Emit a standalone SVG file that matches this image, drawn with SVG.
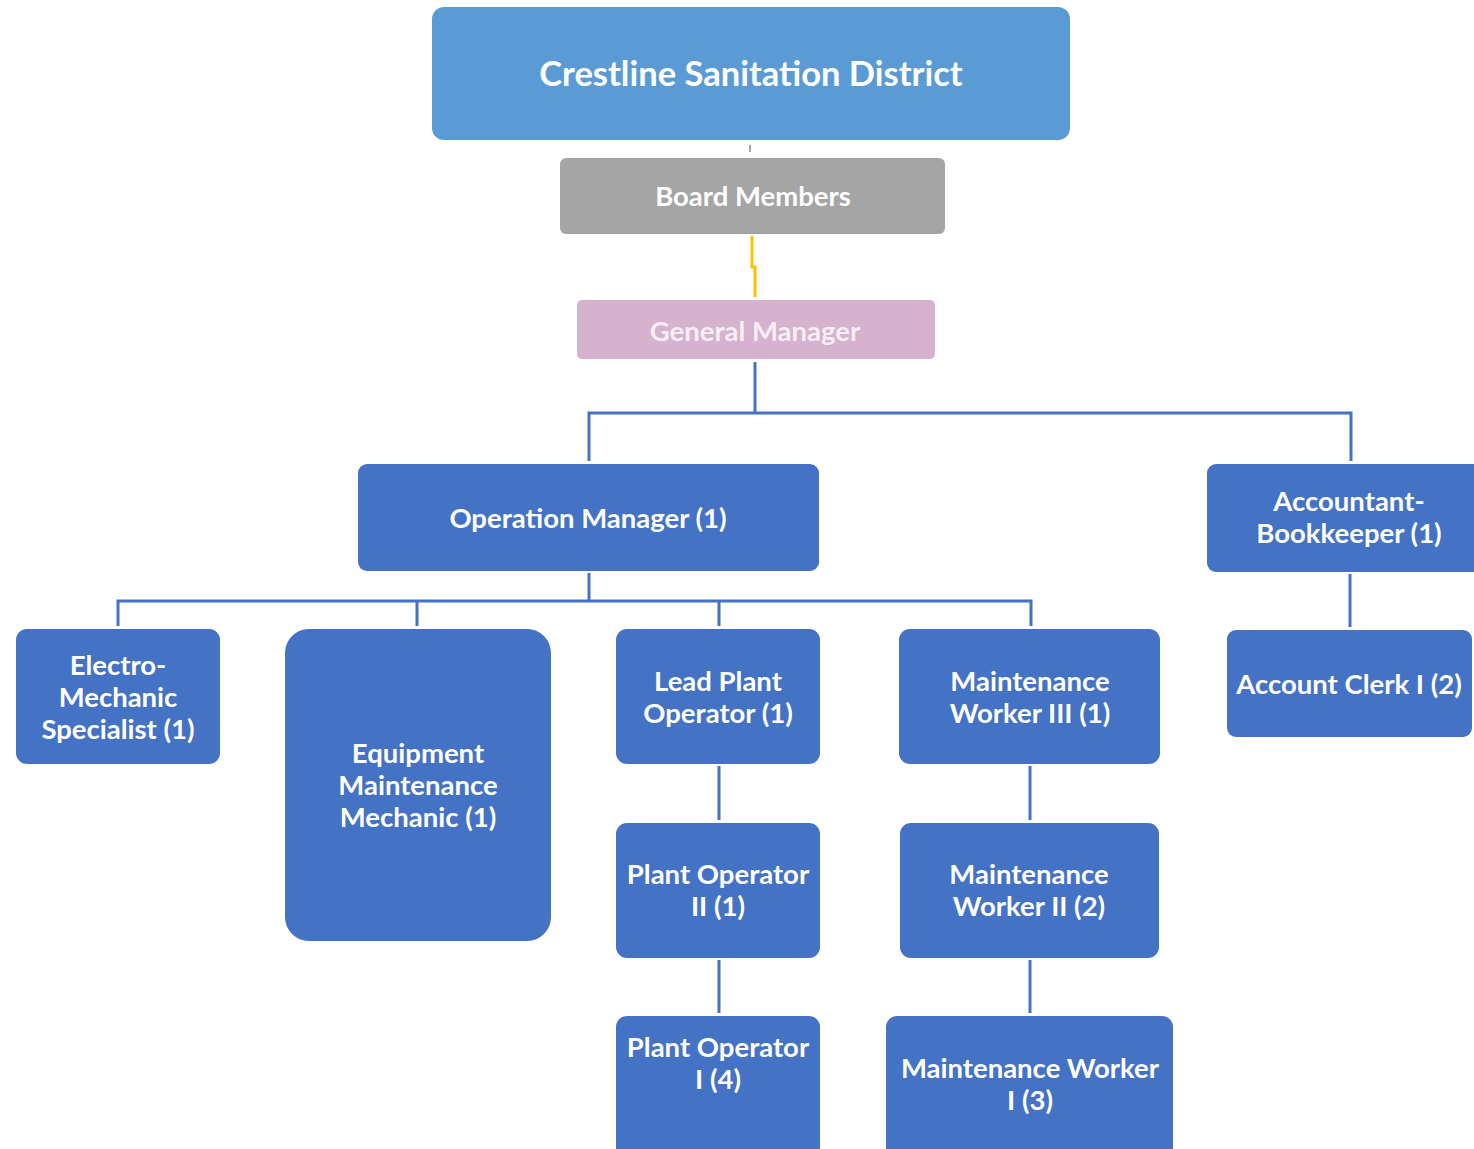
<svg xmlns="http://www.w3.org/2000/svg" width="1474" height="1149" viewBox="0 0 1474 1149">
<style>
  text { font-family: Lato, "Open Sans", "Liberation Sans", sans-serif; font-weight: bold; fill: #ffffff; text-anchor: middle; dominant-baseline: central; }
  .n { fill: #4472C4; }
  .t { font-size: 27.5px; }
  .c { fill: none; stroke: #4472C4; stroke-width: 3; }
</style>
<rect width="1474" height="1149" fill="#ffffff"/>
<g id="connectors">
  <path d="M750 145 V152" stroke="#A5A5A5" stroke-width="2" fill="none"/>
  <path d="M752 236 V267 H755 V297" stroke="#FFC000" stroke-width="3" fill="none"/>
  <path class="c" d="M755 362 V413 M589 461 V413 H1351 V461"/>
  <path class="c" d="M589 573 V601 M118 626 V601 H1031 V626 M417 601 V626 M719 601 V626"/>
  <path class="c" d="M1350 574 V627"/>
  <path class="c" d="M719 766 V820 M719 960 V1013"/>
  <path class="c" d="M1030 766 V820 M1030 960 V1013"/>
</g>
<g id="district">
  <rect x="432" y="7" width="638" height="133" rx="12" fill="#5B9BD5"/>
  <text x="751" y="72" style="font-size:34.5px">Crestline Sanitation District</text>
</g>
<g id="board">
  <rect x="560" y="158" width="385" height="76" rx="6" fill="#A5A5A5"/>
  <text x="753" y="195" class="t">Board Members</text>
</g>
<g id="gm">
  <rect x="577" y="300" width="358" height="59" rx="5" fill="#D5B3CF"/>
  <text x="755" y="330" class="t" style="fill:#F7EEF5">General Manager</text>
</g>
<g id="opmgr">
  <rect class="n" x="358" y="464" width="461" height="107" rx="9"/>
  <text x="588" y="517" class="t">Operation Manager (1)</text>
</g>
<g id="accbk">
  <rect class="n" x="1207" y="464" width="280" height="108" rx="9"/>
  <text x="1349" y="500" class="t">Accountant-</text>
  <text x="1349" y="532" class="t">Bookkeeper (1)</text>
</g>
<g id="electro">
  <rect class="n" x="16" y="629" width="204" height="135" rx="11"/>
  <text x="118" y="664" class="t">Electro-</text>
  <text x="118" y="696" class="t">Mechanic</text>
  <text x="118" y="728" class="t">Specialist (1)</text>
</g>
<g id="equip">
  <rect class="n" x="285" y="629" width="266" height="312" rx="24"/>
  <text x="418" y="752" class="t">Equipment</text>
  <text x="418" y="784" class="t">Maintenance</text>
  <text x="418" y="816" class="t">Mechanic (1)</text>
</g>
<g id="leadplant">
  <rect class="n" x="616" y="629" width="204" height="135" rx="11"/>
  <text x="718" y="680" class="t">Lead Plant</text>
  <text x="718" y="712" class="t">Operator (1)</text>
</g>
<g id="mw3">
  <rect class="n" x="899" y="629" width="261" height="135" rx="11"/>
  <text x="1030" y="680" class="t">Maintenance</text>
  <text x="1030" y="712" class="t">Worker III (1)</text>
</g>
<g id="clerk">
  <rect class="n" x="1227" y="630" width="245" height="107" rx="9"/>
  <text x="1349" y="683" class="t">Account Clerk I (2)</text>
</g>
<g id="po2">
  <rect class="n" x="616" y="823" width="204" height="135" rx="11"/>
  <text x="718" y="873" class="t">Plant Operator</text>
  <text x="718" y="905" class="t">II (1)</text>
</g>
<g id="mw2">
  <rect class="n" x="900" y="823" width="259" height="135" rx="11"/>
  <text x="1029" y="873" class="t">Maintenance</text>
  <text x="1029" y="905" class="t">Worker II (2)</text>
</g>
<g id="po1">
  <rect class="n" x="616" y="1016" width="204" height="145" rx="11"/>
  <text x="718" y="1046" class="t">Plant Operator</text>
  <text x="718" y="1078" class="t">I (4)</text>
</g>
<g id="mw1">
  <rect class="n" x="886" y="1016" width="287" height="145" rx="11"/>
  <text x="1030" y="1067" class="t">Maintenance Worker</text>
  <text x="1030" y="1099" class="t">I (3)</text>
</g>
</svg>
